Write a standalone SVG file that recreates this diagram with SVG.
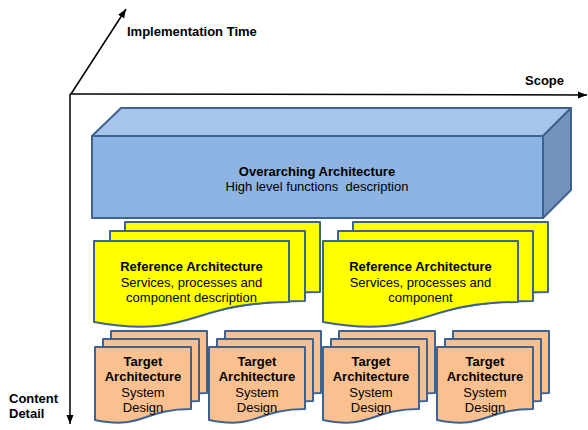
<svg xmlns="http://www.w3.org/2000/svg" xmlns:xlink="http://www.w3.org/1999/xlink" width="588" height="430" viewBox="0 0 588 430">
  <style>
    text { font-family: "Liberation Sans", Arial, sans-serif; font-size: 13px; fill: #000; text-anchor: middle; }
    .b { font-weight: bold; }
    .axis-label { font-weight: bold; text-anchor: start; }
    .axis { stroke: #000; stroke-width: 1.5; fill: none; }
    .edge { stroke: #3F6391; stroke-width: 2; stroke-linejoin: round; }
    .ref { fill: #FFFF00; }
    .tgt { fill: #FAC090; }
  </style>
  <defs>
    <marker id="arrow" markerWidth="9" markerHeight="8" refX="9" refY="4" orient="auto" markerUnits="userSpaceOnUse">
      <path d="M0,0.5 L9,4 L0,7.5 Z" fill="#000"/>
    </marker>
    <!-- document shapes with a wavy lower edge, drawn at the origin -->
    <path id="refFront" d="M0,0 H195 V61 C97,61 97,99 0,81 Z"/>
    <path id="refBack" d="M0,0 H195 V70 C97,70 97,96 0,86 Z"/>
    <path id="tgtDoc" d="M0,0 H96 V62 C48,62 48,83 0,73 Z"/>
  </defs>

  <!-- axes -->
  <g id="connectors">
    <line class="axis" x1="71" y1="94" x2="126" y2="9" marker-end="url(#arrow)"/>
    <line class="axis" x1="70" y1="94" x2="587" y2="95" marker-end="url(#arrow)"/>
    <line class="axis" x1="70" y1="94" x2="70" y2="424" marker-end="url(#arrow)"/>
  </g>
  <text class="axis-label" x="127" y="36">Implementation Time</text>
  <text class="axis-label" x="525" y="85">Scope</text>
  <text class="axis-label" x="9" y="403">Content</text>
  <text class="axis-label" x="9" y="418">Detail</text>

  <!-- overarching architecture block -->
  <g id="overarching">
    <polygon class="edge" fill="#A7C4EA" points="92,136 121,108 571,108 543,136"/>
    <polygon class="edge" fill="#7392BA" points="543,136 571,108 571,190 543,218"/>
    <rect class="edge" fill="#8EB4E3" x="92" y="136" width="451" height="82"/>
    <text class="b" x="317" y="176">Overarching Architecture</text>
    <text x="317" y="191" xml:space="preserve">High level functions  description</text>
  </g>

  <!-- reference architecture stacks -->
  <g id="reference-left">
    <use href="#refBack" xlink:href="#refBack" class="edge ref" x="125" y="222"/>
    <use href="#refBack" xlink:href="#refBack" class="edge ref" x="110" y="231"/>
    <use href="#refFront" xlink:href="#refFront" class="edge ref" x="94" y="241"/>
    <text class="b" x="191.5" y="271">Reference Architecture</text>
    <text x="191.5" y="287">Services, processes and</text>
    <text x="191.5" y="302">component  description</text>
  </g>
  <g id="reference-right">
    <use href="#refBack" xlink:href="#refBack" class="edge ref" x="353" y="222"/>
    <use href="#refBack" xlink:href="#refBack" class="edge ref" x="338" y="231"/>
    <use href="#refFront" xlink:href="#refFront" class="edge ref" x="323" y="241"/>
    <text class="b" x="420.5" y="271">Reference Architecture</text>
    <text x="420.5" y="287">Services, processes and</text>
    <text x="420.5" y="302">component</text>
  </g>

  <!-- target architecture stacks -->
  <g id="target-1">
    <use href="#tgtDoc" xlink:href="#tgtDoc" class="edge tgt" x="111" y="331"/>
    <use href="#tgtDoc" xlink:href="#tgtDoc" class="edge tgt" x="103" y="339"/>
    <use href="#tgtDoc" xlink:href="#tgtDoc" class="edge tgt" x="95" y="347"/>
    <text class="b" x="143" y="366">Target</text>
    <text class="b" x="143" y="381">Architecture</text>
    <text x="143" y="397">System</text>
    <text x="143" y="412">Design</text>
  </g>
  <g id="target-2">
    <use href="#tgtDoc" xlink:href="#tgtDoc" class="edge tgt" x="225" y="331"/>
    <use href="#tgtDoc" xlink:href="#tgtDoc" class="edge tgt" x="217" y="339"/>
    <use href="#tgtDoc" xlink:href="#tgtDoc" class="edge tgt" x="209" y="347"/>
    <text class="b" x="257" y="366">Target</text>
    <text class="b" x="257" y="381">Architecture</text>
    <text x="257" y="397">System</text>
    <text x="257" y="412">Design</text>
  </g>
  <g id="target-3">
    <use href="#tgtDoc" xlink:href="#tgtDoc" class="edge tgt" x="339" y="331"/>
    <use href="#tgtDoc" xlink:href="#tgtDoc" class="edge tgt" x="331" y="339"/>
    <use href="#tgtDoc" xlink:href="#tgtDoc" class="edge tgt" x="323" y="347"/>
    <text class="b" x="371" y="366">Target</text>
    <text class="b" x="371" y="381">Architecture</text>
    <text x="371" y="397">System</text>
    <text x="371" y="412">Design</text>
  </g>
  <g id="target-4">
    <use href="#tgtDoc" xlink:href="#tgtDoc" class="edge tgt" x="453" y="331"/>
    <use href="#tgtDoc" xlink:href="#tgtDoc" class="edge tgt" x="445" y="339"/>
    <use href="#tgtDoc" xlink:href="#tgtDoc" class="edge tgt" x="437" y="347"/>
    <text class="b" x="485" y="366">Target</text>
    <text class="b" x="485" y="381">Architecture</text>
    <text x="485" y="397">System</text>
    <text x="485" y="412">Design</text>
  </g>
</svg>
